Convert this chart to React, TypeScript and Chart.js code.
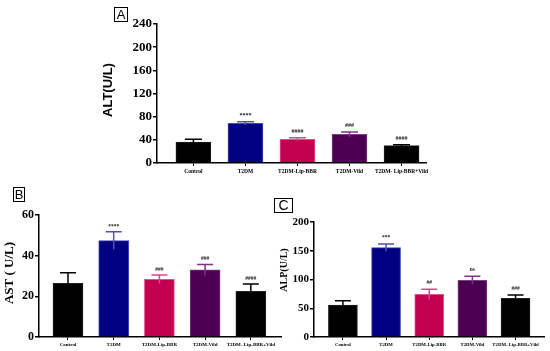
import React, { useEffect, useRef } from "react";
import { Chart, registerables } from "chart.js";

Chart.register(...registerables);

// ---- data ----
const GROUPS = ["Control", "T2DM", "T2DM-Lip-BBR", "T2DM-Vild", "T2DM- Lip-BBR+Vild"];

const ALT_MEAN = [36.3, 68.5, 41.0, 49.5, 30.0];
const ALT_ERR = [4.7, 2.8, 2.7, 4.0, 1.6];
const ALT_SIG = ["", "****", "####", "###", "####"];

const AST_MEAN = [26.4, 47.4, 28.4, 33.0, 22.5];
const AST_ERR = [5.2, 4.4, 2.1, 2.7, 3.6];
const AST_SIG = ["", "****", "###", "###", "####"];

const ALP_MEAN = [55.7, 155.4, 74.2, 98.6, 67.3];
const ALP_ERR = [7.3, 6.3, 8.8, 6.9, 5.7];
const ALP_SIG = ["", "***", "##", "ns", "###"];

const ALT_AXIS = { max: 240, step: 40 };
const AST_AXIS = { max: 60, step: 20 };
const ALP_AXIS = { max: 200, step: 50 };

// ---- styles ----
const FILL = ["#000000", "#000080", "#C3004F", "#4B0052", "#000000"];
const EDGE = ["#202020", "#4646B4", "#E0508A", "#7E3A86", "#202020"];
const ERRC = ["#000000", "#5050BE", "#D84A86", "#7A3482", "#000000"];
const SERIF = "'Liberation Serif', 'Times New Roman', serif";
const SANS = "'Liberation Sans', Arial, sans-serif";

type Panel = {
  means: number[];
  errs: number[];
  sig: string[];
  axis: { max: number; step: number };
  title: string;
  titleFont: string;
  titleX: number;
  titleY: number;
  box: { left: number; top: number; width: number; height: number };
  area: { left: number; right: number; top: number; bottom: number };
  xMin: number;
  xMax: number;
  bar: number;
  yFont: number;
  xFont: number;
  sigFont: number;
  cap: number;
  gap: number;
};

const PANELS: Panel[] = [
  {
    means: ALT_MEAN, errs: ALT_ERR, sig: ALT_SIG, axis: ALT_AXIS,
    title: "ALT(U/L)", titleFont: `bold 13px ${SANS}`, titleX: 108, titleY: 90,
    box: { left: 0, top: 0, width: 550, height: 180 },
    area: { left: 157, right: 426, top: 24, bottom: 163 },
    xMin: -0.7, xMax: 4.47, bar: 35, yFont: 13, xFont: 5.5, sigFont: 6, cap: 17, gap: 5,
  },
  {
    means: AST_MEAN, errs: AST_ERR, sig: AST_SIG, axis: AST_AXIS,
    title: "AST ( U/L)", titleFont: `bold 13px ${SERIF}`, titleX: 10, titleY: 93,
    box: { left: 0, top: 180, width: 290, height: 171 },
    area: { left: 39, right: 281, top: 35, bottom: 157 },
    xMin: -0.634, xMax: 4.66, bar: 30, yFont: 12, xFont: 5, sigFont: 5.5, cap: 16, gap: 4,
  },
  {
    means: ALP_MEAN, errs: ALP_ERR, sig: ALP_SIG, axis: ALP_AXIS,
    title: "ALP(U/L)", titleFont: `bold 10px ${SERIF}`, titleX: 14, titleY: 90,
    box: { left: 270, top: 180, width: 280, height: 171 },
    area: { left: 44, right: 274, top: 42, bottom: 157 },
    xMin: -0.67, xMax: 4.66, bar: 29, yFont: 11, xFont: 4.8, sigFont: 5.5, cap: 16, gap: 5,
  },
];

function PanelChart({ p }: { p: Panel }) {
  const ref = useRef<HTMLCanvasElement | null>(null);
  useEffect(() => {
    const canvas = ref.current;
    if (!canvas) return;
    const overlay = {
      id: "overlay",
      afterDatasetsDraw(chart: any) {
        const ctx = chart.ctx;
        const ys = chart.scales.y;
        const meta = chart.getDatasetMeta(0);
        ctx.save();
        meta.data.forEach((bar: any, i: number) => {
          const x = bar.x;
          const top = ys.getPixelForValue(p.means[i] + p.errs[i]);
          const bot = ys.getPixelForValue(p.means[i] - p.errs[i]);
          ctx.strokeStyle = ERRC[i];
          ctx.lineWidth = 1.5;
          ctx.beginPath();
          ctx.moveTo(x, bot);
          ctx.lineTo(x, top);
          ctx.moveTo(x - p.cap / 2, top);
          ctx.lineTo(x + p.cap / 2, top);
          ctx.stroke();
          if (p.sig[i]) {
            ctx.fillStyle = "#222";
            ctx.font = `bold ${p.sigFont}px ${SERIF}`;
            ctx.textAlign = "center";
            ctx.textBaseline = "alphabetic";
            ctx.fillText(p.sig[i], x, top - p.gap);
          }
        });
        ctx.translate(p.titleX, p.titleY);
        ctx.rotate(-Math.PI / 2);
        ctx.fillStyle = "#000";
        ctx.font = p.titleFont;
        ctx.textAlign = "center";
        ctx.textBaseline = "middle";
        ctx.fillText(p.title, 0, 0);
        ctx.restore();
      },
    };
    const chart = new Chart(canvas, {
      type: "bar",
      data: {
        datasets: [
          {
            data: p.means.map((y, i) => ({ x: i, y })),
            backgroundColor: FILL,
            borderColor: EDGE,
            borderWidth: 1,
            barThickness: p.bar,
          } as any,
        ],
      },
      options: {
        responsive: false,
        animation: false,
        devicePixelRatio: 1,
        layout: {
          padding: { left: 0, top: p.area.top, right: p.box.width - p.area.right, bottom: 0 },
        },
        plugins: { legend: { display: false }, tooltip: { enabled: false } },
        scales: {
          x: {
            type: "linear",
            offset: false,
            min: p.xMin,
            max: p.xMax,
            afterBuildTicks: (ax: any) => {
              ax.ticks = GROUPS.map((_, i) => ({ value: i }));
            },
            afterFit: (ax: any) => {
              ax.height = p.box.height - p.area.bottom;
            },
            grid: { display: true, offset: false, drawOnChartArea: false, drawTicks: true, tickLength: 3, color: "#000", lineWidth: 1 },
            border: { display: true, color: "#000", width: 1.5 },
            ticks: {
              autoSkip: false,
              maxRotation: 0,
              minRotation: 0,
              padding: 2,
              color: "#000",
              font: { family: SERIF, weight: "bold", size: p.xFont },
              callback: (v: any) => GROUPS[v] ?? "",
            },
          },
          y: {
            min: 0,
            max: p.axis.max,
            afterFit: (ax: any) => {
              ax.width = p.area.left;
            },
            grid: { display: true, drawOnChartArea: false, drawTicks: true, tickLength: 4, color: "#000", lineWidth: 1.5 },
            border: { display: true, color: "#000", width: 1.5 },
            ticks: {
              stepSize: p.axis.step,
              padding: 1,
              color: "#000",
              font: { family: SERIF, weight: "bold", size: p.yFont },
            },
          },
        } as any,
      },
      plugins: [overlay],
    });
    return () => chart.destroy();
  }, [p]);
  return (
    <canvas
      ref={ref}
      width={p.box.width}
      height={p.box.height}
      style={{ position: "absolute", left: p.box.left, top: p.box.top, width: p.box.width, height: p.box.height }}
    />
  );
}

const LETTERS = [
  { t: "A", left: 114, top: 7, w: 14, h: 15, fs: 13 },
  { t: "B", left: 13, top: 187, w: 12, h: 15, fs: 13 },
  { t: "C", left: 274, top: 198, w: 19, h: 15, fs: 14 },
];

export default function App() {
  return (
    <div style={{ position: "absolute", left: 0, top: 0, width: 550, height: 351, background: "#fff", overflow: "hidden" }}>
      {PANELS.map((p, i) => (
        <PanelChart key={i} p={p} />
      ))}
      {LETTERS.map((l) => (
        <div
          key={l.t}
          style={{
            position: "absolute",
            left: l.left,
            top: l.top,
            width: l.w,
            height: l.h,
            boxSizing: "border-box",
            border: "1px solid #000",
            fontFamily: SANS,
            fontSize: l.fs,
            lineHeight: `${l.h - 2}px`,
            textAlign: "center",
            color: "#000",
          }}
        >
          {l.t}
        </div>
      ))}
    </div>
  );
}
